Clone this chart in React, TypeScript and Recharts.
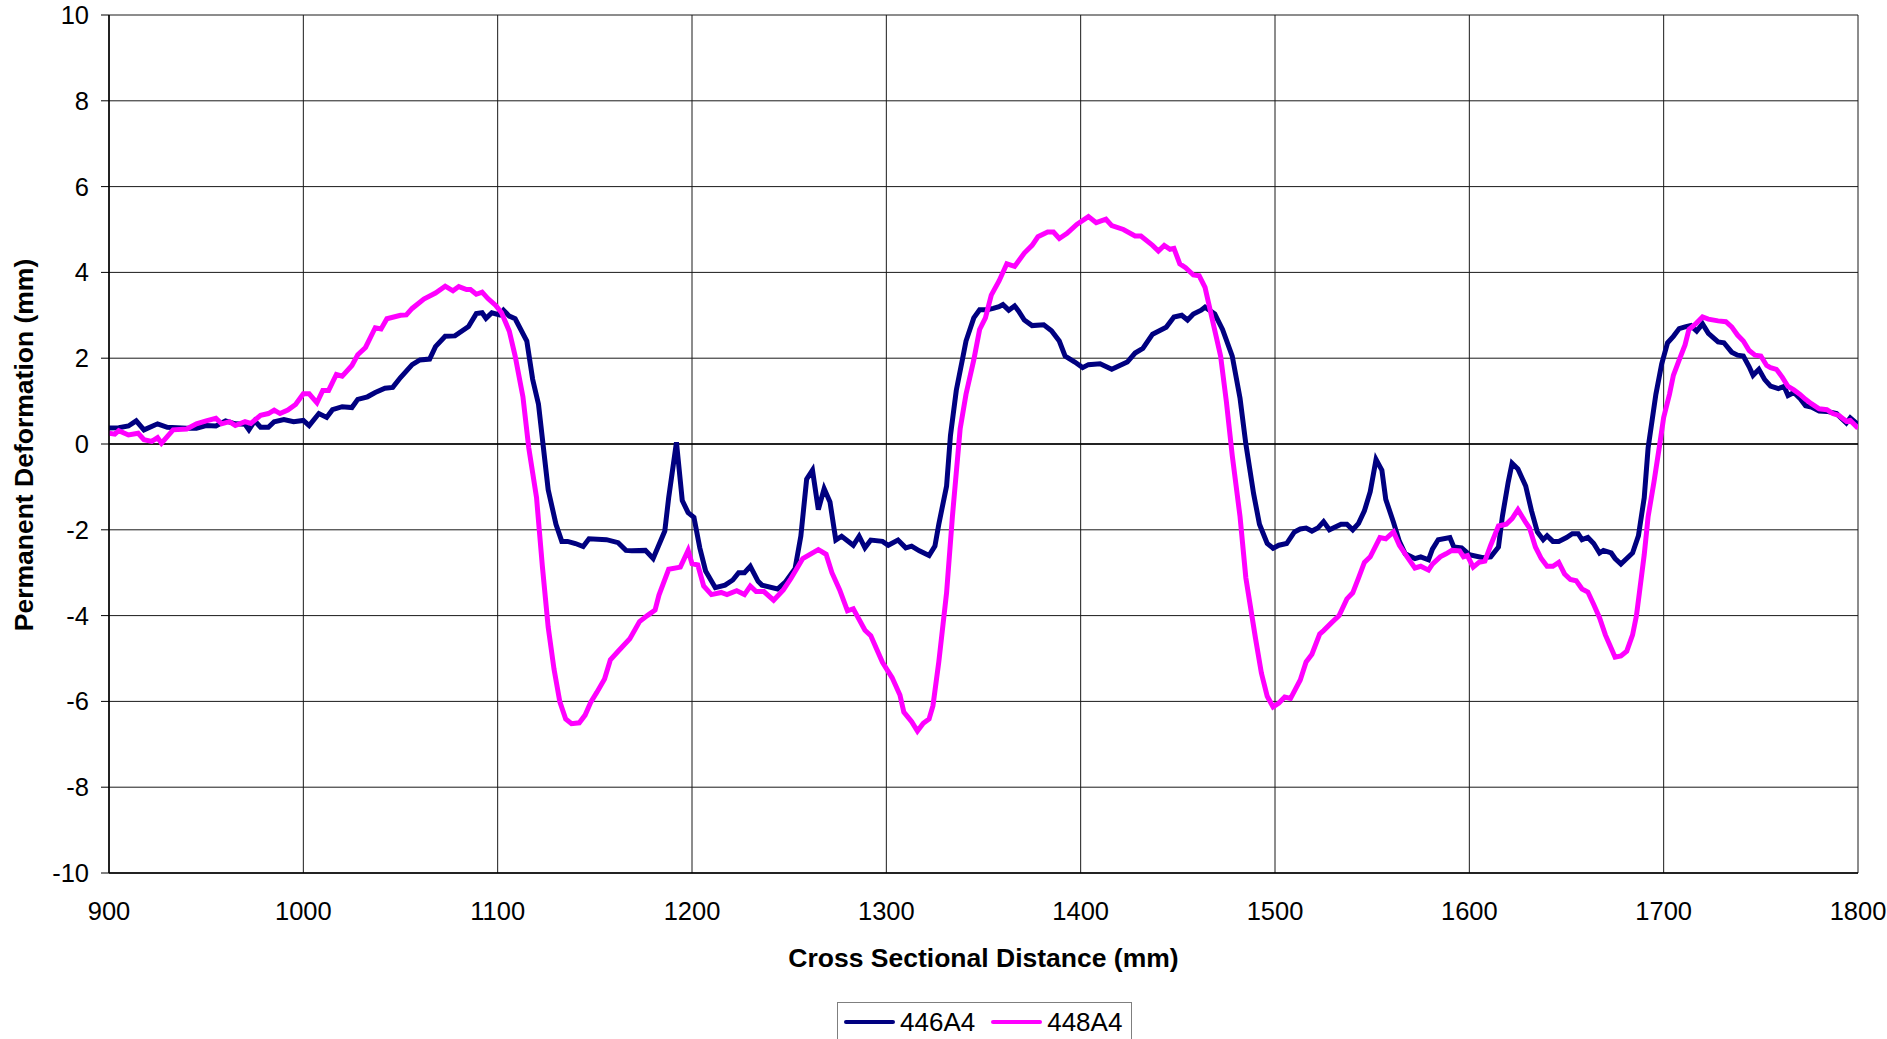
import React from 'react';
import {
  LineChart,
  Line,
  XAxis,
  YAxis,
  CartesianGrid,
  ReferenceLine,
  Legend,
} from 'recharts';

// [distance mm, permanent deformation mm]
const profile446: [number, number][] = [
  [900, 0.37], [905, 0.38], [910, 0.42], [914, 0.54], [918, 0.33], [925, 0.47], [930, 0.39],
  [940, 0.37], [945, 0.37], [950, 0.43], [955, 0.42], [960, 0.54], [965, 0.47], [970, 0.46],
  [972, 0.33], [975, 0.54], [978, 0.39], [982, 0.39], [985, 0.52], [990, 0.57], [995, 0.52],
  [1000, 0.55], [1003, 0.43], [1008, 0.71], [1012, 0.62], [1015, 0.8], [1020, 0.87], [1025, 0.85],
  [1028, 1.04], [1033, 1.1], [1037, 1.2], [1042, 1.3], [1046, 1.32], [1050, 1.55], [1056, 1.85],
  [1060, 1.96], [1065, 1.98], [1068, 2.27], [1073, 2.51], [1078, 2.52], [1085, 2.74], [1089, 3.04],
  [1092, 3.06], [1094, 2.93], [1097, 3.06], [1101, 3.01], [1103, 3.12], [1106, 2.98], [1109, 2.92],
  [1115, 2.4], [1118, 1.51], [1121, 0.93], [1126, -1.07], [1130, -1.87], [1133, -2.27], [1136, -2.27],
  [1140, -2.32], [1144, -2.39], [1147, -2.21], [1156, -2.23], [1162, -2.3], [1166, -2.48], [1169, -2.49],
  [1176, -2.48], [1180, -2.67], [1186, -2.03], [1188, -1.25], [1192, 0.04], [1195, -1.32], [1198, -1.6],
  [1201, -1.71], [1204, -2.42], [1207, -2.96], [1212, -3.35], [1217, -3.29], [1221, -3.17], [1224, -3.0],
  [1227, -3.0], [1230, -2.85], [1234, -3.2], [1236, -3.29], [1244, -3.38], [1248, -3.22], [1253, -2.91],
  [1256, -2.15], [1259, -0.82], [1262, -0.61], [1265, -1.53], [1268, -1.04], [1271, -1.35], [1274, -2.24],
  [1277, -2.15], [1283, -2.36], [1286, -2.15], [1289, -2.42], [1292, -2.24], [1298, -2.27], [1301, -2.36],
  [1306, -2.24], [1310, -2.42], [1313, -2.38], [1317, -2.49], [1322, -2.6], [1325, -2.38], [1327, -1.87],
  [1331, -0.98], [1333, 0.2], [1336, 1.25], [1339.5, 2.05], [1341, 2.4], [1345, 2.94], [1348, 3.13],
  [1352, 3.13], [1355, 3.16], [1358, 3.2], [1360, 3.25], [1363, 3.12], [1366, 3.22], [1368, 3.1],
  [1371, 2.89], [1375, 2.76], [1381, 2.78], [1385, 2.64], [1389, 2.4], [1392, 2.05], [1397, 1.91],
  [1401, 1.78], [1404, 1.85], [1410, 1.87], [1416, 1.74], [1424, 1.91], [1428, 2.12], [1432, 2.23],
  [1437, 2.56], [1444, 2.72], [1448, 2.96], [1452, 3.0], [1455, 2.89], [1458, 3.03], [1462, 3.12],
  [1464, 3.19], [1469, 3.03], [1473, 2.67], [1478, 2.05], [1482, 1.07], [1485, 0], [1489, -1.16],
  [1492, -1.87], [1496, -2.32], [1499, -2.43], [1502, -2.36], [1506, -2.32], [1510, -2.05], [1513, -1.98],
  [1516, -1.96], [1519, -2.03], [1522, -1.96], [1525, -1.81], [1528, -2.0], [1534, -1.87], [1537, -1.87],
  [1540, -2.0], [1543, -1.85], [1546, -1.56], [1549, -1.11], [1552, -0.36], [1555, -0.61], [1557, -1.29],
  [1561, -1.83], [1564, -2.27], [1567, -2.56], [1572, -2.67], [1575, -2.63], [1579, -2.7], [1581, -2.45],
  [1584, -2.23], [1590, -2.18], [1592, -2.4], [1596, -2.42], [1600, -2.58], [1607, -2.65], [1611, -2.63],
  [1615, -2.4], [1617, -1.69], [1620, -0.89], [1622, -0.45], [1625, -0.58], [1629, -0.98], [1632, -1.56],
  [1635, -2.05], [1638, -2.23], [1640, -2.14], [1643, -2.27], [1646, -2.27], [1650, -2.18], [1653, -2.09],
  [1656, -2.09], [1658, -2.23], [1661, -2.18], [1664, -2.32], [1667, -2.54], [1669, -2.48], [1673, -2.54],
  [1675, -2.67], [1678, -2.8], [1681, -2.67], [1684, -2.54], [1687, -2.14], [1690, -1.25], [1692, -0.09],
  [1696, 1.16], [1699, 1.87], [1702, 2.36], [1705, 2.51], [1708, 2.69], [1711, 2.73], [1714, 2.76],
  [1717, 2.63], [1720, 2.8], [1723, 2.58], [1728, 2.38], [1731, 2.36], [1735, 2.14], [1738, 2.07],
  [1741, 2.05], [1744, 1.8], [1746, 1.6], [1749, 1.74], [1752, 1.5], [1755, 1.35], [1759, 1.29],
  [1762, 1.34], [1764, 1.13], [1767, 1.2], [1770, 1.07], [1773, 0.89], [1776, 0.86], [1780, 0.77],
  [1784, 0.76], [1789, 0.71], [1791, 0.62], [1794, 0.49], [1796, 0.61], [1800, 0.45],
];

const profile448: [number, number][] = [
  [900, 0.25], [903, 0.23], [905, 0.31], [910, 0.21], [915, 0.25], [918, 0.1], [922, 0.06],
  [925, 0.15], [927, 0.02], [933, 0.33], [940, 0.35], [945, 0.47], [950, 0.54], [955, 0.6],
  [958, 0.47], [962, 0.52], [965, 0.43], [970, 0.52], [973, 0.48], [978, 0.67], [982, 0.71],
  [985, 0.79], [988, 0.71], [992, 0.79], [996, 0.92], [1000, 1.17], [1003, 1.17], [1007, 0.96],
  [1010, 1.25], [1013, 1.25], [1017, 1.62], [1020, 1.58], [1025, 1.83], [1028, 2.08], [1032, 2.25],
  [1037, 2.71], [1040, 2.68], [1043, 2.92], [1050, 3.0], [1053, 3.01], [1056, 3.16], [1062, 3.38],
  [1068, 3.52], [1073, 3.68], [1077, 3.57], [1080, 3.67], [1084, 3.6], [1086, 3.6], [1089, 3.49],
  [1092, 3.54], [1095, 3.39], [1099, 3.23], [1102, 3.06], [1106, 2.63], [1109, 2.05], [1113, 1.1],
  [1116, -0.09], [1120, -1.25], [1123, -2.85], [1126, -4.27], [1129, -5.25], [1132, -6.01], [1135, -6.41],
  [1138, -6.52], [1142, -6.5], [1145, -6.32], [1148, -6.01], [1151, -5.79], [1155, -5.48], [1158, -5.03],
  [1162, -4.83], [1168, -4.54], [1173, -4.14], [1177, -4.0], [1181, -3.87], [1183, -3.52], [1188, -2.92],
  [1194, -2.87], [1198, -2.48], [1200, -2.79], [1203, -2.82], [1206, -3.31], [1210, -3.51], [1215, -3.46],
  [1218, -3.51], [1223, -3.42], [1227, -3.51], [1230, -3.31], [1233, -3.44], [1237, -3.44], [1242, -3.64],
  [1247, -3.4], [1251, -3.13], [1257, -2.67], [1265, -2.46], [1269, -2.57], [1272, -3.0], [1276, -3.4],
  [1280, -3.89], [1283, -3.84], [1289, -4.34], [1292, -4.47], [1298, -5.09], [1303, -5.45], [1307, -5.85],
  [1309, -6.25], [1313, -6.47], [1316, -6.69], [1319, -6.51], [1322, -6.41], [1324, -6.1], [1327, -5.08],
  [1331, -3.47], [1334, -1.69], [1338, 0.36], [1341, 1.16], [1345, 1.96], [1348, 2.67], [1351, 2.94],
  [1354, 3.47], [1358, 3.8], [1362, 4.2], [1366, 4.14], [1371, 4.45], [1375, 4.63], [1378, 4.83],
  [1383, 4.94], [1386, 4.94], [1389, 4.79], [1393, 4.91], [1398, 5.12], [1404, 5.3], [1408, 5.16],
  [1413, 5.24], [1416, 5.09], [1422, 5.0], [1428, 4.85], [1431, 4.85], [1437, 4.63], [1440, 4.5],
  [1443, 4.63], [1446, 4.54], [1448, 4.56], [1451, 4.2], [1454, 4.11], [1458, 3.94], [1461, 3.92],
  [1464, 3.65], [1468, 2.85], [1472, 2.05], [1475, 0.98], [1478, -0.27], [1482, -1.69], [1485, -3.12],
  [1490, -4.54], [1493, -5.34], [1496, -5.88], [1499, -6.13], [1502, -6.04], [1505, -5.9], [1508, -5.93],
  [1513, -5.5], [1516, -5.08], [1519, -4.9], [1523, -4.43], [1525, -4.35], [1529, -4.17], [1533, -4.0],
  [1537, -3.61], [1540, -3.47], [1543, -3.12], [1546, -2.76], [1549, -2.63], [1554, -2.18], [1557, -2.21],
  [1561, -2.05], [1564, -2.36], [1568, -2.63], [1572, -2.89], [1575, -2.85], [1579, -2.94], [1581, -2.8],
  [1585, -2.63], [1588, -2.56], [1591, -2.48], [1595, -2.49], [1597, -2.63], [1599, -2.6], [1602, -2.87],
  [1605, -2.76], [1608, -2.73], [1611, -2.36], [1615, -1.91], [1619, -1.87], [1622, -1.74], [1625, -1.53],
  [1629, -1.83], [1631, -1.96], [1634, -2.4], [1637, -2.67], [1640, -2.85], [1643, -2.85], [1646, -2.76],
  [1649, -3.03], [1652, -3.16], [1655, -3.19], [1658, -3.38], [1661, -3.45], [1664, -3.74], [1667, -4.05],
  [1670, -4.45], [1673, -4.76], [1675, -4.97], [1678, -4.94], [1681, -4.83], [1684, -4.45], [1686, -4.0],
  [1687.5, -3.47], [1690, -2.58], [1692, -1.69], [1695, -0.89], [1698, 0], [1700, 0.62], [1703, 1.16],
  [1705, 1.6], [1708, 1.96], [1711, 2.31], [1713, 2.67], [1716, 2.78], [1720, 2.96], [1723, 2.91],
  [1728, 2.87], [1732, 2.85], [1735, 2.73], [1738, 2.54], [1741, 2.4], [1744, 2.18], [1747, 2.07],
  [1750, 2.05], [1753, 1.83], [1755, 1.78], [1758, 1.74], [1761, 1.56], [1764, 1.34], [1767, 1.26],
  [1770, 1.16], [1773, 1.04], [1776, 0.94], [1780, 0.82], [1784, 0.8], [1787, 0.71], [1790, 0.67],
  [1794, 0.53], [1796, 0.55], [1800, 0.37],
];

const xTicks = [900, 1000, 1100, 1200, 1300, 1400, 1500, 1600, 1700, 1800];
const yTicks = [-10, -8, -6, -4, -2, 0, 2, 4, 6, 8, 10];

const seriesNames = ['446A4', '448A4'];
const seriesColors = ['#000080', '#ff00ff'];

const font = '"Liberation Sans", Arial, sans-serif';

const toPoints = (rows: [number, number][]) => rows.map(([x, y]) => ({ x, y }));

function LegendBox() {
  return (
    <div
      style={{
        width: 295,
        height: 46,
        border: '1px solid #7f7f7f',
        background: '#fff',
        fontFamily: font,
        fontSize: 26,
        display: 'flex',
        alignItems: 'center',
        boxSizing: 'border-box',
        paddingLeft: 6,
        paddingBottom: 6,
        color: '#000',
        lineHeight: 1,
      }}
    >
      {seriesNames.map((name, i) => (
        <div key={name} style={{ display: 'flex', alignItems: 'center' }}>
          <div style={{ width: 51, height: 4, background: seriesColors[i], borderRadius: 2 }} />
          <span style={{ marginLeft: 5, marginRight: i === 0 ? 16 : 0 }}>{name}</span>
        </div>
      ))}
    </div>
  );
}

export default function App() {
  return (
    <div style={{ position: 'absolute', left: 0, top: 0, width: 1887, height: 1039, background: '#fff' }}>
      <LineChart
        width={1887}
        height={1039}
        margin={{ top: 15, right: 29, left: 0, bottom: 66 }}
      >
        <CartesianGrid stroke="#1a1a1a" strokeWidth={1} />
        <XAxis
          dataKey="x"
          type="number"
          domain={[900, 1800]}
          ticks={xTicks}
          allowDataOverflow
          height={100}
          tickLine={false}
          tickSize={8}
          tickMargin={21}
          axisLine={{ stroke: '#000', strokeWidth: 1.5 }}
          tick={{ fill: '#000', fontSize: 25.5, fontFamily: font }}
          label={{
            content: ({ viewBox }: any) => (
              <text
                x={viewBox.x + viewBox.width / 2}
                y={viewBox.y + 93.5}
                textAnchor="middle"
                fontFamily={font}
                fontWeight="bold"
                fontSize={26.5}
                fill="#000"
              >
                Cross Sectional Distance (mm)
              </text>
            ),
          }}
        />
        <YAxis
          type="number"
          domain={[-10, 10]}
          ticks={yTicks}
          allowDataOverflow
          width={109}
          tickSize={8}
          tickMargin={12}
          tickLine={{ stroke: '#000' }}
          axisLine={{ stroke: '#000', strokeWidth: 1.5 }}
          tick={{ fill: '#000', fontSize: 25.5, fontFamily: font }}
          label={{
            content: () => (
              <text
                x={24}
                y={445}
                transform="rotate(-90 24 445)"
                textAnchor="middle"
                dominantBaseline="central"
                fontFamily={font}
                fontWeight="bold"
                fontSize={26.5}
                fill="#000"
              >
                Permanent Deformation (mm)
              </text>
            ),
          }}
        />
        <ReferenceLine y={0} stroke="#000" strokeWidth={1.5} />
        <Line
          data={toPoints(profile446)}
          dataKey="y"
          name={seriesNames[0]}
          type="linear"
          stroke={seriesColors[0]}
          strokeWidth={5}
          dot={false}
          activeDot={false}
          isAnimationActive={false}
        />
        <Line
          data={toPoints(profile448)}
          dataKey="y"
          name={seriesNames[1]}
          type="linear"
          stroke={seriesColors[1]}
          strokeWidth={5}
          dot={false}
          activeDot={false}
          isAnimationActive={false}
        />
        <Legend
          layout="horizontal"
          verticalAlign="middle"
          align="center"
          content={() => <LegendBox />}
          wrapperStyle={{ position: 'absolute', left: 837, top: 1002, width: 295, height: 46 }}
        />
      </LineChart>
    </div>
  );
}
